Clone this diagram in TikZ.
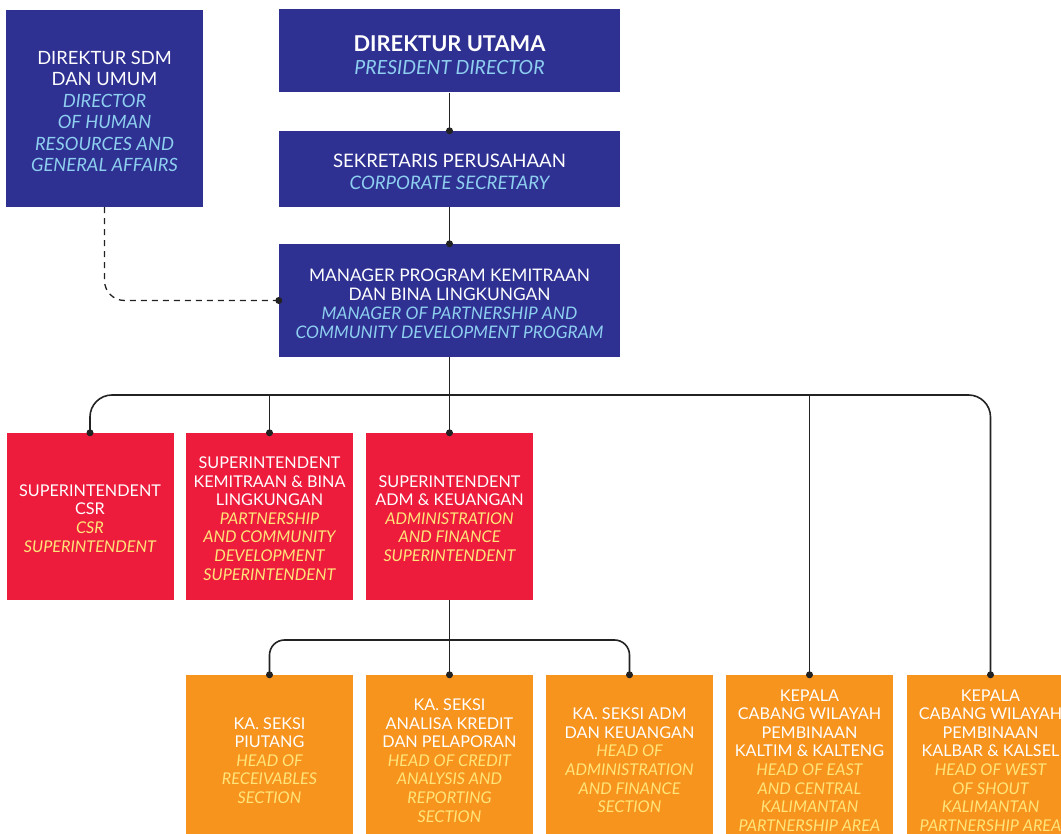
\documentclass[tikz,border=0pt]{standalone}
\usepackage{fontspec}
\setmainfont{Lato}
\usetikzlibrary{arrows.meta}
\definecolor{cblue}{HTML}{2E3192}
\definecolor{cred}{HTML}{ED1C3D}
\definecolor{corange}{HTML}{F7941E}
\definecolor{lblue}{HTML}{8ECFF0}
\definecolor{lyel}{HTML}{FFE57A}
\definecolor{cline}{HTML}{222222}
\newcommand{\enb}[1]{{\color{lblue}\itshape #1}}
\newcommand{\eny}[1]{{\color{lyel}\itshape #1}}
\newcommand{\lift}[1]{\rule{0pt}{#1}}
\begin{document}
\begin{tikzpicture}[x=1pt,y=-1pt,
  basebox/.style={inner sep=0pt, align=center, text=white},
  bluebox/.style={basebox, fill=cblue, minimum width=341pt},
  redbox/.style={basebox, fill=cred, minimum width=167pt, minimum height=167pt,
     font=\fontsize{16.2}{18.6}\selectfont},
  orbox/.style={basebox, fill=corange, minimum width=167pt, minimum height=167pt,
     font=\fontsize{16.2}{18.6}\selectfont},
  conn/.style={draw=cline, line width=1.6pt},
  dotc/.style={circle, fill=cline, inner sep=0pt, minimum size=7pt}]
\useasboundingbox (0,0) rectangle (1061,834);
\clip (0,0) rectangle (1061,834);

% top level
\node[bluebox, minimum width=197pt, minimum height=197pt,
      font=\fontsize{18.3}{21.5}\selectfont] (sdm) at (104.5,108.5)
  {\lift{19pt}DIREKTUR SDM\\DAN UMUM\\\enb{DIRECTOR}\\\enb{OF HUMAN}\\\enb{RESOURCES AND}\\\enb{GENERAL AFFAIRS}};
\node[bluebox, minimum height=83pt, font=\fontsize{19.5}{23}\selectfont] (utama) at (449.5,51)
  {\lift{23.5pt}{\fontsize{21.8}{23}\selectfont\bfseries DIREKTUR UTAMA}\\\enb{PRESIDENT DIRECTOR}};
\node[bluebox, minimum height=76pt, font=\fontsize{18.6}{22}\selectfont] (sekre) at (449.5,169)
  {\lift{19.5pt}SEKRETARIS PERUSAHAAN\\\enb{CORPORATE SECRETARY}};
\node[bluebox, minimum height=113pt, font=\fontsize{17.3}{19}\selectfont] (mgr) at (449.5,300.5)
  {\lift{18.5pt}MANAGER PROGRAM KEMITRAAN\\DAN BINA LINGKUNGAN\\\enb{MANAGER OF PARTNERSHIP AND}\\\enb{COMMUNITY DEVELOPMENT PROGRAM}};

% superintendents
\node[redbox] (csr) at (90,516.5)
  {\lift{15.7pt}SUPERINTENDENT\\CSR\\\eny{CSR}\\\eny{SUPERINTENDENT}};
\node[redbox] (kb) at (269.5,516.5)
  {\lift{15.7pt}SUPERINTENDENT\\KEMITRAAN \& BINA\\LINGKUNGAN\\\eny{PARTNERSHIP}\\\eny{AND COMMUNITY}\\\eny{DEVELOPMENT}\\\eny{SUPERINTENDENT}};
\node[redbox] (adm) at (449.5,516.5)
  {\lift{15.7pt}SUPERINTENDENT\\ADM \& KEUANGAN\\\eny{ADMINISTRATION}\\\eny{AND FINANCE}\\\eny{SUPERINTENDENT}};

% sections / heads
\node[orbox] (piu) at (269.5,758.5)
  {\lift{15.7pt}KA. SEKSI\\PIUTANG\\\eny{HEAD OF}\\\eny{RECEIVABLES}\\\eny{SECTION}};
\node[orbox] (kred) at (449.5,758.5)
  {\lift{15.7pt}KA. SEKSI\\ANALISA KREDIT\\DAN PELAPORAN\\\eny{HEAD OF CREDIT}\\\eny{ANALYSIS AND}\\\eny{REPORTING}\\\eny{SECTION}};
\node[orbox] (sadm) at (629.5,758.5)
  {\lift{15.7pt}KA. SEKSI ADM\\DAN KEUANGAN\\\eny{HEAD OF}\\\eny{ADMINISTRATION}\\\eny{AND FINANCE}\\\eny{SECTION}};
\node[orbox] (kal1) at (809.5,758.5)
  {\lift{15.7pt}KEPALA\\CABANG WILAYAH\\PEMBINAAN\\KALTIM \& KALTENG\\\eny{HEAD OF EAST}\\\eny{AND CENTRAL}\\\eny{KALIMANTAN}\\\eny{PARTNERSHIP AREA}};
\node[orbox] (kal2) at (990.5,758.5)
  {\lift{15.7pt}KEPALA\\CABANG WILAYAH\\PEMBINAAN\\KALBAR \& KALSEL\\\eny{HEAD OF WEST}\\\eny{OF SHOUT}\\\eny{KALIMANTAN}\\\eny{PARTNERSHIP AREA}};

% connectors
\coordinate (bus) at (0,395);
\coordinate (bus2) at (0,640);
\draw[conn] (utama) -- (sekre.north) node[dotc]{};
\draw[conn] (sekre) -- (mgr.north) node[dotc]{};
\draw[conn, line width=1.3pt, dash pattern=on 6pt off 5pt, rounded corners=20pt]
  (sdm.south) |- (mgr.west) node[dotc]{};
\draw[conn, rounded corners=22pt] (csr.north) |- (bus -| kal1.north) -| (kal2.north);
\node[dotc] at (csr.north) {};
\node[dotc] at (kal2.north) {};
\draw[conn] (mgr) -- (adm.north) node[dotc]{};
\draw[conn] (kb.north |- bus) -- (kb.north) node[dotc]{};
\draw[conn] (kal1.north |- bus) -- (kal1.north) node[dotc]{};
\draw[conn, rounded corners=15pt] (piu.north) |- (bus2 -| kred.north) -| (sadm.north);
\node[dotc] at (piu.north) {};
\node[dotc] at (sadm.north) {};
\draw[conn] (adm) -- (kred.north) node[dotc]{};
\end{tikzpicture}
\end{document}
